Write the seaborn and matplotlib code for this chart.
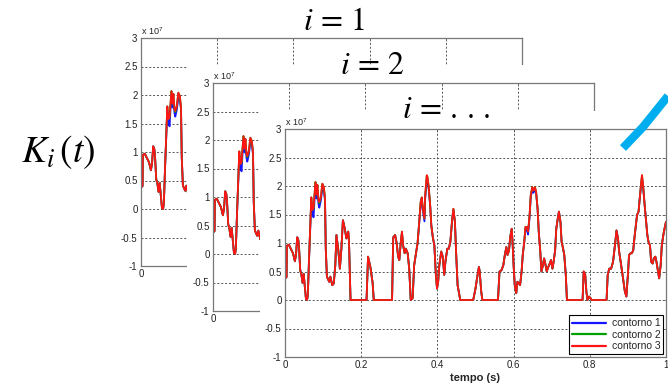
import matplotlib
matplotlib.use('Agg')
import numpy as np
import pandas as pd
import matplotlib.pyplot as plt
import seaborn as sns
from matplotlib.patches import Rectangle
from matplotlib.lines import Line2D
from matplotlib.ticker import FuncFormatter, FixedLocator

# ---------------- data (values in units of 1e7) ----------------
tempo = [
    0.000, 0.004, 0.005, 0.010, 0.015, 0.021, 0.026, 0.029, 0.032, 0.035,
    0.037, 0.040, 0.043, 0.046, 0.049, 0.052, 0.055, 0.058, 0.060, 0.063,
    0.067, 0.069, 0.072, 0.075, 0.078, 0.080, 0.083, 0.085, 0.088, 0.090,
    0.094, 0.098, 0.102, 0.105, 0.107, 0.110, 0.116, 0.119, 0.124, 0.128,
    0.132, 0.135, 0.138, 0.140, 0.144, 0.148, 0.152, 0.157, 0.161, 0.166,
    0.168, 0.172, 0.214, 0.218, 0.224, 0.230, 0.233, 0.281, 0.284, 0.289,
    0.293, 0.297, 0.300, 0.304, 0.307, 0.310, 0.314, 0.317, 0.322, 0.326,
    0.330, 0.335, 0.339, 0.344, 0.348, 0.352, 0.356, 0.359, 0.362, 0.366,
    0.368, 0.372, 0.374, 0.377, 0.381, 0.384, 0.388, 0.392, 0.396, 0.399,
    0.402, 0.405, 0.410, 0.414, 0.418, 0.421, 0.426, 0.430, 0.434, 0.439,
    0.442, 0.446, 0.449, 0.453, 0.460, 0.494, 0.500, 0.504, 0.509, 0.511,
    0.515, 0.518, 0.559, 0.563, 0.568, 0.573, 0.577, 0.581, 0.584, 0.588,
    0.591, 0.595, 0.597, 0.600, 0.603, 0.607, 0.610, 0.614, 0.617, 0.621,
    0.624, 0.628, 0.631, 0.635, 0.638, 0.642, 0.645, 0.649, 0.652, 0.656,
    0.659, 0.663, 0.666, 0.670, 0.673, 0.677, 0.680, 0.684, 0.687, 0.691,
    0.695, 0.698, 0.702, 0.705, 0.709, 0.712, 0.716, 0.719, 0.723, 0.726,
    0.730, 0.733, 0.737, 0.740, 0.781, 0.784, 0.788, 0.791, 0.794, 0.798,
    0.802, 0.805, 0.844, 0.847, 0.851, 0.856, 0.861, 0.867, 0.870, 0.874,
    0.877, 0.881, 0.886, 0.892, 0.896, 0.900, 0.903, 0.907, 0.910, 0.914,
    0.917, 0.921, 0.924, 0.928, 0.931, 0.935, 0.937, 0.940, 0.944, 0.947,
    0.951, 0.954, 0.958, 0.961, 0.965, 0.968, 0.972, 0.975, 0.979, 0.982,
    0.986, 0.989, 0.993, 0.997, 1.000,
]

contorno_3 = [
    0.38, 0.40, 0.95, 0.97, 0.90, 0.82, 0.68, 0.80, 1.10, 1.05,
    0.90, 0.52, 0.45, 0.30, 0.46, 0.23, 0.02, 0.00, 0.10, 0.70,
    1.43, 1.80, 1.58, 1.62, 1.90, 2.07, 1.85, 2.02, 1.75, 1.72,
    1.80, 2.04, 1.98, 1.78, 0.90, 0.41, 0.32, 0.41, 0.26, 0.29,
    0.61, 1.14, 0.98, 0.87, 0.55, 0.90, 1.40, 1.25, 1.08, 1.20,
    1.02, 0.00, 0.00, 0.76, 0.58, 0.30, 0.00, 0.00, 1.10, 1.14,
    1.00, 0.76, 0.70, 1.02, 1.20, 0.96, 0.82, 0.90, 0.82, 0.55,
    0.00, 0.03, 0.61, 0.82, 1.00, 1.34, 1.72, 1.80, 1.60, 1.43,
    1.84, 2.19, 2.16, 2.00, 1.66, 1.31, 1.10, 0.96, 0.44, 0.20,
    0.32, 0.61, 0.85, 0.76, 0.44, 0.67, 0.90, 0.90, 1.02, 1.43,
    1.60, 1.37, 0.85, 0.26, 0.00, 0.00, 0.20, 0.38, 0.58, 0.50,
    0.15, 0.00, 0.00, 0.50, 0.52, 0.61, 0.79, 0.93, 0.79, 0.87,
    1.10, 1.25, 1.05, 0.61, 0.26, 0.12, 0.32, 0.29, 0.26, 0.50,
    0.79, 1.02, 1.28, 1.28, 1.20, 1.49, 1.84, 1.98, 1.92, 1.98,
    1.90, 1.60, 1.20, 0.85, 0.50, 0.61, 0.73, 0.61, 0.50, 0.58,
    0.64, 0.70, 0.55, 0.67, 0.87, 1.25, 1.43, 1.55, 1.37, 1.02,
    0.90, 0.79, 0.44, 0.00, 0.00, 0.50, 0.44, 0.15, 0.00, 0.06,
    0.03, 0.00, 0.00, 0.44, 0.55, 0.55, 0.67, 1.02, 1.22, 1.08,
    0.85, 0.67, 0.44, 0.15, 0.06, 0.44, 0.79, 0.82, 0.82, 0.87,
    1.08, 1.31, 1.49, 1.55, 1.78, 2.07, 2.19, 2.00, 1.66, 1.43,
    1.14, 1.02, 0.96, 0.67, 0.64, 0.73, 0.76, 0.67, 0.50, 0.38,
    0.61, 0.96, 1.14, 1.28, 1.37,
]

contorno_2 = [
    0.38, 0.40, 0.95, 0.97, 0.90, 0.82, 0.68, 0.80, 1.10, 1.05,
    0.90, 0.52, 0.45, 0.30, 0.46, 0.23, 0.02, 0.00, 0.10, 0.70,
    1.43, 1.80, 1.58, 1.60, 1.90, 2.07, 1.85, 2.02, 1.75, 1.70,
    1.80, 2.04, 1.98, 1.78, 0.90, 0.41, 0.32, 0.41, 0.26, 0.29,
    0.61, 1.14, 0.98, 0.87, 0.55, 0.90, 1.40, 1.25, 1.08, 1.20,
    1.02, 0.00, 0.00, 0.76, 0.58, 0.30, 0.00, 0.00, 1.10, 1.14,
    1.00, 0.76, 0.70, 1.02, 1.20, 0.96, 0.82, 0.90, 0.82, 0.55,
    0.00, 0.03, 0.61, 0.82, 1.00, 1.34, 1.72, 1.80, 1.60, 1.43,
    1.84, 2.17, 2.15, 2.00, 1.66, 1.31, 1.10, 0.96, 0.44, 0.20,
    0.32, 0.61, 0.85, 0.76, 0.44, 0.67, 0.90, 0.90, 1.02, 1.43,
    1.60, 1.37, 0.85, 0.26, 0.00, 0.00, 0.20, 0.38, 0.58, 0.50,
    0.15, 0.00, 0.00, 0.50, 0.52, 0.61, 0.79, 0.93, 0.79, 0.87,
    1.10, 1.25, 1.05, 0.61, 0.26, 0.12, 0.32, 0.29, 0.26, 0.50,
    0.79, 1.02, 1.28, 1.28, 1.20, 1.49, 1.84, 1.98, 1.92, 1.98,
    1.90, 1.60, 1.20, 0.85, 0.50, 0.61, 0.73, 0.61, 0.50, 0.58,
    0.64, 0.70, 0.55, 0.67, 0.87, 1.25, 1.43, 1.55, 1.37, 1.02,
    0.90, 0.79, 0.44, 0.00, 0.00, 0.50, 0.44, 0.15, 0.00, 0.06,
    0.03, 0.00, 0.00, 0.44, 0.55, 0.55, 0.67, 1.02, 1.22, 1.08,
    0.85, 0.67, 0.44, 0.15, 0.06, 0.44, 0.79, 0.82, 0.82, 0.87,
    1.08, 1.31, 1.49, 1.55, 1.78, 2.07, 2.19, 2.00, 1.66, 1.43,
    1.14, 1.02, 0.96, 0.67, 0.64, 0.73, 0.76, 0.67, 0.50, 0.38,
    0.61, 0.96, 1.14, 1.28, 1.37,
]

contorno_1 = [
    0.38, 0.40, 0.95, 0.97, 0.90, 0.82, 0.68, 0.80, 1.10, 1.05,
    0.90, 0.52, 0.45, 0.30, 0.46, 0.23, 0.02, 0.00, 0.10, 0.70,
    1.40, 1.72, 1.50, 1.45, 1.82, 1.98, 1.78, 1.90, 1.68, 1.62,
    1.74, 1.95, 1.92, 1.74, 0.90, 0.41, 0.32, 0.41, 0.26, 0.29,
    0.61, 1.14, 0.98, 0.87, 0.55, 0.90, 1.40, 1.25, 1.08, 1.20,
    1.02, 0.00, 0.00, 0.76, 0.58, 0.30, 0.00, 0.00, 1.10, 1.14,
    1.00, 0.76, 0.70, 1.02, 1.17, 0.96, 0.82, 0.90, 0.82, 0.55,
    0.00, 0.03, 0.61, 0.82, 1.00, 1.34, 1.66, 1.74, 1.56, 1.38,
    1.78, 2.10, 2.08, 1.95, 1.66, 1.31, 1.10, 0.96, 0.44, 0.20,
    0.32, 0.61, 0.85, 0.76, 0.44, 0.67, 0.90, 0.90, 1.02, 1.43,
    1.58, 1.37, 0.85, 0.26, 0.00, 0.00, 0.20, 0.38, 0.58, 0.50,
    0.15, 0.00, 0.00, 0.50, 0.52, 0.61, 0.79, 0.93, 0.79, 0.87,
    1.10, 1.25, 1.05, 0.61, 0.26, 0.12, 0.32, 0.29, 0.26, 0.50,
    0.79, 1.02, 1.24, 1.22, 1.15, 1.46, 1.80, 1.94, 1.88, 1.93,
    1.88, 1.60, 1.20, 0.85, 0.50, 0.61, 0.73, 0.61, 0.50, 0.58,
    0.64, 0.70, 0.55, 0.67, 0.87, 1.25, 1.43, 1.55, 1.37, 1.02,
    0.90, 0.79, 0.44, 0.00, 0.00, 0.50, 0.44, 0.15, 0.00, 0.06,
    0.03, 0.00, 0.00, 0.44, 0.55, 0.55, 0.67, 1.02, 1.22, 1.08,
    0.85, 0.67, 0.44, 0.15, 0.06, 0.44, 0.79, 0.82, 0.82, 0.87,
    1.08, 1.31, 1.49, 1.55, 1.78, 2.04, 2.13, 1.97, 1.66, 1.43,
    1.14, 1.02, 0.96, 0.67, 0.64, 0.73, 0.76, 0.67, 0.50, 0.38,
    0.61, 0.96, 1.14, 1.28, 1.37,
]

series_names = ['contorno 1', 'contorno 2', 'contorno 3']
series_colors = ['#1515ff', '#00a000', '#ff1515']
layer_titles = [r'$i\,=\,1$', r'$i\,=\,2$', r'$i\,=\,.\,.\,.$']
x_ticks = [0, 0.2, 0.4, 0.6, 0.8, 1]
y_ticks = [-1, -0.5, 0, 0.5, 1, 1.5, 2, 2.5, 3]
x_label = 'tempo (s)'
y_multiplier = r'x $\mathregular{10^{7}}$'
side_label = r'$K_i\,(t)$'

# ---------------- style ----------------
sns.set_style('white')
plt.rcParams['font.family'] = ['Liberation Sans', 'DejaVu Sans']
plt.rcParams['mathtext.fontset'] = 'stix'

df = pd.DataFrame({
    'tempo': tempo * 3,
    'valor': contorno_1 + contorno_2 + contorno_3,
    'serie': [series_names[0]] * len(tempo) + [series_names[1]] * len(tempo)
             + [series_names[2]] * len(tempo),
})

W, H = 668, 383
fig = plt.figure(figsize=(W / 100, H / 100), dpi=100)
fig.patch.set_facecolor('white')


def fx(px):
    return px / W


def fy(py):
    return 1 - py / H


layer_origins = [(141, 38), (213, 83), (285, 129)]
AX_W, AX_H = 381, 228
cover_boxes = [None, (187, 65, 600, 336), (260, 111, 668, 383)]

fmt = FuncFormatter(lambda v, p: '%g' % v)

for k, (lx, ty) in enumerate(layer_origins):
    if cover_boxes[k] is not None:
        x0, y0, x1, y1 = cover_boxes[k]
        fig.add_artist(Rectangle((fx(x0), fy(y1)), fx(x1) - fx(x0), fy(y0) - fy(y1),
                                 transform=fig.transFigure, facecolor='white',
                                 edgecolor='none', zorder=2 * k))
    ax = fig.add_axes([fx(lx), fy(ty + AX_H), AX_W / W, AX_H / H])
    ax.set_zorder(2 * k + 1)
    ax.set_facecolor('white')
    sns.lineplot(data=df, x='tempo', y='valor', hue='serie',
                 hue_order=series_names, palette=series_colors,
                 errorbar=None, estimator=None, linewidth=1.3, ax=ax)
    ax.set_xlim(0, 1)
    ax.set_ylim(-1, 3)
    ax.xaxis.set_major_locator(FixedLocator(x_ticks))
    ax.yaxis.set_major_locator(FixedLocator(y_ticks))
    ax.xaxis.set_major_formatter(fmt)
    ax.yaxis.set_major_formatter(fmt)
    ax.tick_params(direction='in', length=2.5, width=0.6, colors='#666666',
                   labelcolor='#222222', labelsize=7, pad=2.5,
                   top=True, right=True)
    ax.grid(True, linestyle=(0, (2, 2)), color='#555555', linewidth=0.7)
    for s in ax.spines.values():
        s.set_color('#777777')
        s.set_linewidth(0.9)
    ax.set_xlabel(x_label, fontsize=8, fontweight='bold', labelpad=2)
    ax.set_ylabel('')
    ax.text(0.0, 1.005, y_multiplier, transform=ax.transAxes, fontsize=6.5,
            ha='left', va='bottom', color='#222222')
    leg = ax.legend(loc='lower right', bbox_to_anchor=(1.0, 0.0),
                    borderaxespad=0.25, fontsize=7.5, frameon=True,
                    fancybox=False, edgecolor='black', framealpha=1,
                    handlelength=3.3, labelspacing=0.15, borderpad=0.3,
                    handletextpad=0.5, title=None)
    leg.get_frame().set_linewidth(0.8)
    for line in leg.get_lines():
        line.set_linewidth(1.6)

# layer titles
title_pos = [(334, 22), (372, 66), (446, 110)]
for (px, py), t in zip(title_pos, layer_titles):
    fig.text(fx(px), fy(py), t, fontsize=23, ha='center', va='center',
             color='black', zorder=20)

fig.text(fx(58), fy(152), side_label, fontsize=27, ha='center', va='center',
         color='black', zorder=20)

# decorative blue arc
fig.add_artist(Line2D([fx(623), fx(643), fx(668)], [fy(148), fy(127), fy(96)],
                      transform=fig.transFigure, color='#00aeef', linewidth=6,
                      solid_capstyle='butt', zorder=20))

fig.savefig('out.png', dpi=100, facecolor='white')
